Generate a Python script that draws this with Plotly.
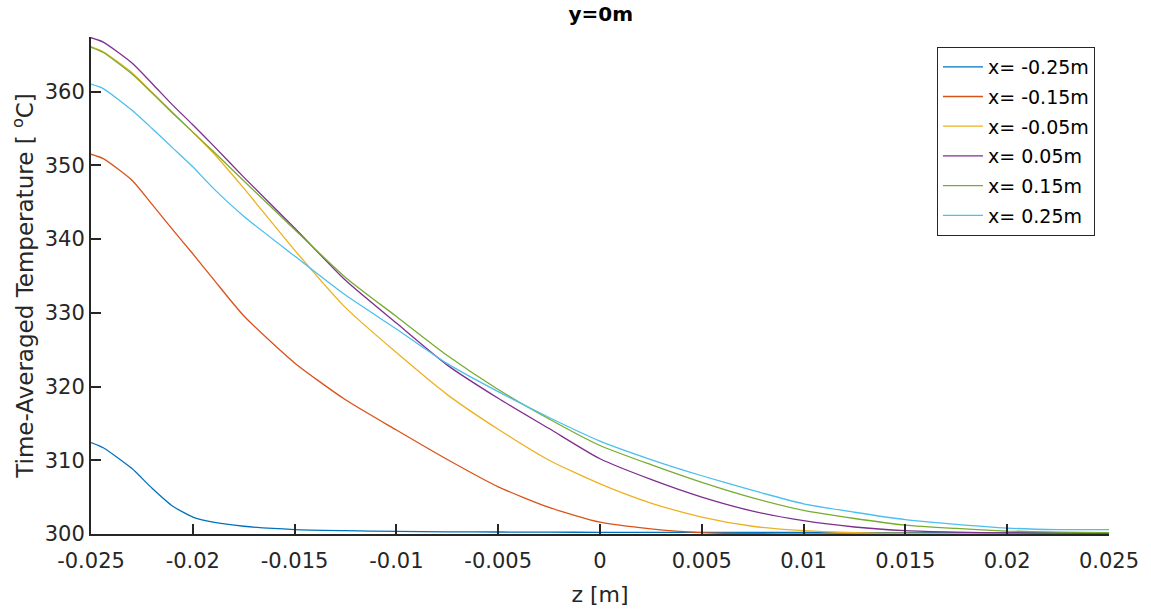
import plotly.graph_objects as go

# Axial positions along z [m]
z = [-0.025, -0.0244, -0.023, -0.022, -0.021, -0.020, -0.019, -0.0175, -0.015, -0.0125,
     -0.010, -0.0075, -0.005, -0.0025, 0.0, 0.0025, 0.005, 0.0075, 0.010, 0.0125,
     0.015, 0.0175, 0.020, 0.0225, 0.025]

# Time-averaged temperature [°C] at y = 0 for each x station
t_xm025 = [312.4, 311.7, 308.9, 306.2, 303.8, 302.3, 301.6, 301.05, 300.6, 300.45,
           300.35, 300.3, 300.27, 300.25, 300.23, 300.22, 300.22, 300.21, 300.21, 300.2,
           300.2, 300.2, 300.2, 300.2, 300.2]
t_xm015 = [351.5, 350.9, 348.0, 344.7, 341.3, 338.0, 334.6, 329.6, 323.2, 318.2,
           314.1, 310.1, 306.4, 303.6, 301.6, 300.7, 300.2, 300.05, 300.02, 300.01,
           300.0, 300.0, 300.0, 300.0, 300.0]
t_xm005 = [366.1, 365.4, 362.6, 359.9, 357.2, 354.5, 351.7, 346.9, 338.5, 330.7,
           324.6, 318.9, 314.2, 310.0, 306.8, 304.2, 302.3, 301.05, 300.45, 300.17,
           300.1, 300.08, 300.07, 300.06, 300.05]
t_x005 = [367.3, 366.7, 363.9, 361.1, 358.2, 355.5, 352.7, 348.4, 341.5, 334.4,
          328.6, 322.9, 318.4, 314.3, 310.2, 307.4, 305.0, 303.1, 301.8, 300.95,
          300.45, 300.25, 300.15, 300.12, 300.1]
t_x015 = [366.0, 365.3, 362.4, 359.8, 357.1, 354.5, 351.9, 347.9, 341.3, 334.8,
          329.5, 324.2, 319.6, 315.6, 312.0, 309.4, 307.0, 304.9, 303.2, 302.1,
          301.2, 300.75, 300.4, 300.25, 300.2]
t_x025 = [361.0, 360.4, 357.5, 355.0, 352.4, 349.8, 346.9, 343.1, 337.7, 332.4,
          327.8, 323.1, 319.3, 315.8, 312.6, 310.1, 307.9, 305.9, 304.1, 302.95,
          301.95, 301.3, 300.8, 300.6, 300.6]

series_names = ["x= -0.25m", "x= -0.15m", "x= -0.05m", "x= 0.05m", "x= 0.15m", "x= 0.25m"]
series_values = [t_xm025, t_xm015, t_xm005, t_x005, t_x015, t_x025]
series_colors = ["#0072BD", "#D95319", "#EDB120", "#7E2F8E", "#77AC30", "#4DBEEE"]

x_ticks = [-0.025, -0.02, -0.015, -0.01, -0.005, 0, 0.005, 0.01, 0.015, 0.02, 0.025]
x_tick_text = ["-0.025", "-0.02", "-0.015", "-0.01", "-0.005", "0",
               "0.005", "0.01", "0.015", "0.02", "0.025"]
y_ticks = [300, 310, 320, 330, 340, 350, 360]

ink = "#262626"
font_family = "DejaVu Sans"

fig = go.Figure()
for name, vals, col in zip(series_names, series_values, series_colors):
    fig.add_trace(go.Scatter(
        x=z, y=vals, mode="lines", name=name, legendgroup=name,
        line=dict(color=col, width=1.3, shape="spline", smoothing=0.6),
    ))

fig.update_layout(
    width=1151, height=615,
    margin=dict(l=91, r=40, t=37, b=80),
    paper_bgcolor="white", plot_bgcolor="white",
    font=dict(family=font_family, color=ink),
    title=dict(text="<b>y=0m</b>", x=0.522, xanchor="center",
               y=0.977, yanchor="middle", yref="container",
               font=dict(size=20, family=font_family, color="black")),
    showlegend=True,
    legend=dict(
        x=0.831, y=0.98, xanchor="left", yanchor="top",
        bgcolor="white", bordercolor=ink, borderwidth=1,
        font=dict(size=19, family=font_family, color="black"),
        tracegroupgap=2, itemwidth=40,
    ),
)

fig.update_xaxes(
    range=[-0.025, 0.025], tickvals=x_ticks, ticktext=x_tick_text,
    showgrid=False, zeroline=False,
    showline=True, linecolor=ink, linewidth=2, mirror=False,
    ticks="inside", ticklen=10, tickwidth=2, tickcolor=ink,
    ticklabelstandoff=7,
    tickfont=dict(size=21, family=font_family, color=ink),
    title=dict(text="z [m]", font=dict(size=22, family=font_family, color=ink), standoff=14),
)
fig.update_yaxes(
    range=[300, 367.4], tickvals=y_ticks,
    showgrid=False, zeroline=False,
    showline=True, linecolor=ink, linewidth=2, mirror=False,
    ticks="inside", ticklen=10, tickwidth=2, tickcolor=ink,
    tickfont=dict(size=21, family=font_family, color=ink),
    title=dict(text="Time-Averaged Temperature [ <sup>o</sup>C]",
               font=dict(size=23, family=font_family, color=ink), standoff=5),
)

fig.write_html("out.html")
